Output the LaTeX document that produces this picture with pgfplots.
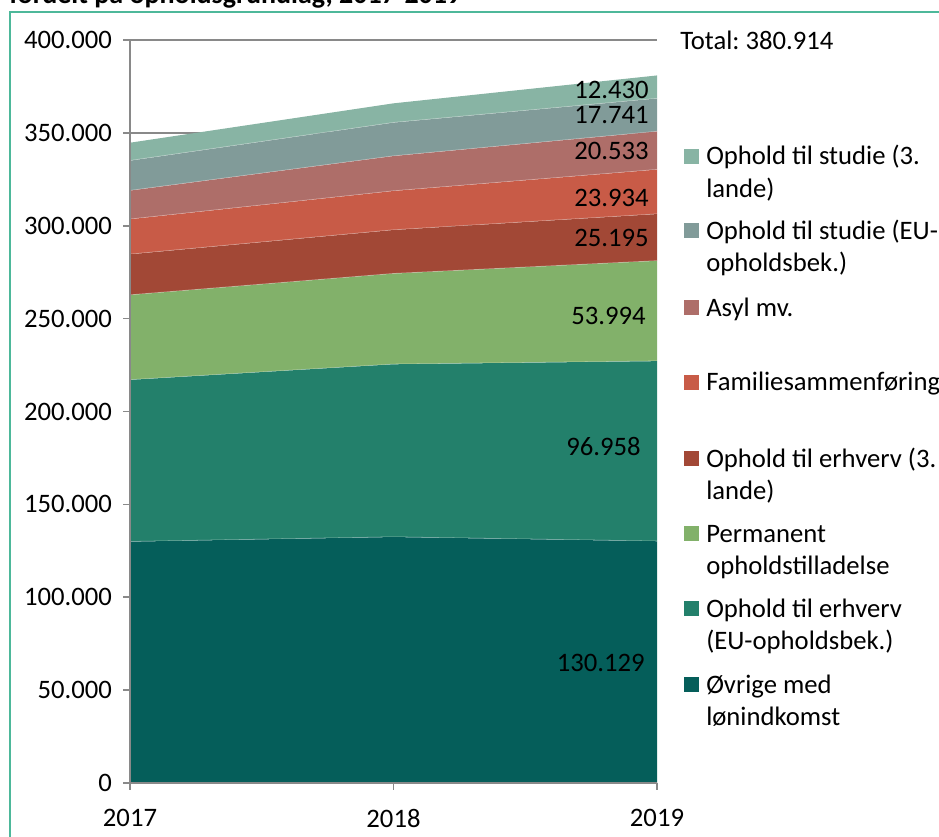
\documentclass[border=0pt]{standalone}
\usepackage{fontspec}
\setmainfont{Carlito}
\usepackage{pgfplots}
\pgfplotsset{compat=1.18}

\definecolor{cOvr}{HTML}{055E5A}
\definecolor{cEUerh}{HTML}{23806B}
\definecolor{cPerm}{HTML}{82B16A}
\definecolor{cErh3}{HTML}{A24836}
\definecolor{cFam}{HTML}{C85B47}
\definecolor{cAsyl}{HTML}{AE6E69}
\definecolor{cStEU}{HTML}{819B99}
\definecolor{cSt3}{HTML}{88B4A4}
\definecolor{axgray}{HTML}{898989}
\definecolor{framegreen}{HTML}{4DB89A}

\pgfplotsset{
  sepline/.style={draw=white, draw opacity=0.45, line width=0.8pt, forget plot},
}

\newcommand{\fs}{\fontsize{20}{24.4}\selectfont}

\begin{document}
\frenchspacing
\fs
\begin{tikzpicture}
\begin{axis}[
  at={(0,0)}, anchor=south west,
  scale only axis, width=395.25pt, height=557.25pt,
  xmin=2017, xmax=2019, ymin=0, ymax=400000,
  axis x line=bottom, axis y line=left,
  axis line style={-, draw=axgray, line width=1.2pt},
  tick align=outside, major tick length=5.25pt,
  tick style={axgray, line width=1.2pt},
  xtick={2017,2018,2019}, xticklabels={2017,2018,2019},
  ytick={0,50000,...,400000},
  scaled y ticks=false,
  yticklabel style={/pgf/number format/fixed, /pgf/number format/1000 sep={.}, /pgf/number format/assume math mode=true, xshift=-1.5pt},
  xticklabel style={yshift=-7.5pt},
  ticklabel style={font=\fs},
  ymajorgrids, grid style={axgray, line width=1.2pt},
  stack plots=y,
  every axis plot/.append style={no markers},
]
% bottom to top: Øvrige, EU erhverv, permanent, erhverv 3. lande, familie, asyl, studie EU, studie 3. lande
\addplot[fill=cOvr, draw=none] coordinates {(2017,129900) (2018,132400) (2019,130129)} \closedcycle;
\addplot[sepline] coordinates {(2017,0) (2018,0) (2019,0)};
\addplot[fill=cEUerh, draw=none] coordinates {(2017,87100) (2018,93000) (2019,96958)} \closedcycle;
\addplot[sepline] coordinates {(2017,0) (2018,0) (2019,0)};
\addplot[fill=cPerm, draw=none] coordinates {(2017,45700) (2018,48800) (2019,53994)} \closedcycle;
\addplot[sepline] coordinates {(2017,0) (2018,0) (2019,0)};
\addplot[fill=cErh3, draw=none] coordinates {(2017,21900) (2018,23500) (2019,25195)} \closedcycle;
\addplot[sepline] coordinates {(2017,0) (2018,0) (2019,0)};
\addplot[fill=cFam, draw=none] coordinates {(2017,18900) (2018,21000) (2019,23934)} \closedcycle;
\addplot[sepline] coordinates {(2017,0) (2018,0) (2019,0)};
\addplot[fill=cAsyl, draw=none] coordinates {(2017,15400) (2018,18800) (2019,20533)} \closedcycle;
\addplot[sepline] coordinates {(2017,0) (2018,0) (2019,0)};
\addplot[fill=cStEU, draw=none] coordinates {(2017,16100) (2018,18000) (2019,17741)} \closedcycle;
\addplot[sepline] coordinates {(2017,0) (2018,0) (2019,0)};
\addplot[fill=cSt3, draw=none] coordinates {(2017,9700) (2018,10400) (2019,12430)} \closedcycle;
\end{axis}

% pixel frame of the reference: (x, y) from the top left corner
\begin{scope}[x=0.75pt, y=-0.75pt, shift={(-97.5pt,587.25pt)}]
% axis lines over the areas
\draw[axgray, line width=1.2pt] (130,40) -- (130,783) -- (657,783);
% 2019 values
\begin{scope}[every node/.style={anchor=east, inner sep=0pt}]
\node at (649,90) {12.430};
\node at (649,115) {17.741};
\node at (649,150.7) {20.533};
\node at (649,197.7) {23.934};
\node at (649,237.7) {25.195};
\node at (646,316) {53.994};
\node at (641,446.7) {96.958};
\node at (645,663) {130.129};
\end{scope}
\draw[framegreen, line width=1pt] (10,845) -- (10,12) -- (945,12);
\node[anchor=base west, inner sep=0pt, font=\fontsize{21}{25}\selectfont\bfseries] at (9,3.5) {fordelt på opholdsgrundlag, 2017-2019};
\node[anchor=base west, inner sep=0pt] at (680,50) {Total: 380.914};
\foreach \c/\b/\la/\lb in {
  cSt3/165/{Ophold til studie (3.}/{lande)},
  cStEU/239.3/{Ophold til studie (EU-}/{opholdsbek.)},
  cAsyl/316.3/{Asyl mv.}/{},
  cFam/391/{Familiesammenføring}/{},
  cErh3/467.3/{Ophold til erhverv (3.}/{lande)},
  cPerm/542.3/{Permanent}/{opholdstilladelse},
  cEUerh/617.3/{Ophold til erhverv}/{(EU-opholdsbek.)},
  cOvr/693.3/{Øvrige med}/{lønindkomst}} {
  \fill[\c] (684,\b-1) rectangle (699,\b-16);
  \node[anchor=base west, inner sep=0pt] at (706,\b) {\la};
  \node[anchor=base west, inner sep=0pt] at (706,\b+32.5) {\lb};
}
\end{scope}
\pgfresetboundingbox
\path[use as bounding box] (-97.5pt,-40.5pt) rectangle (606.75pt,587.25pt);
\end{tikzpicture}
\end{document}
